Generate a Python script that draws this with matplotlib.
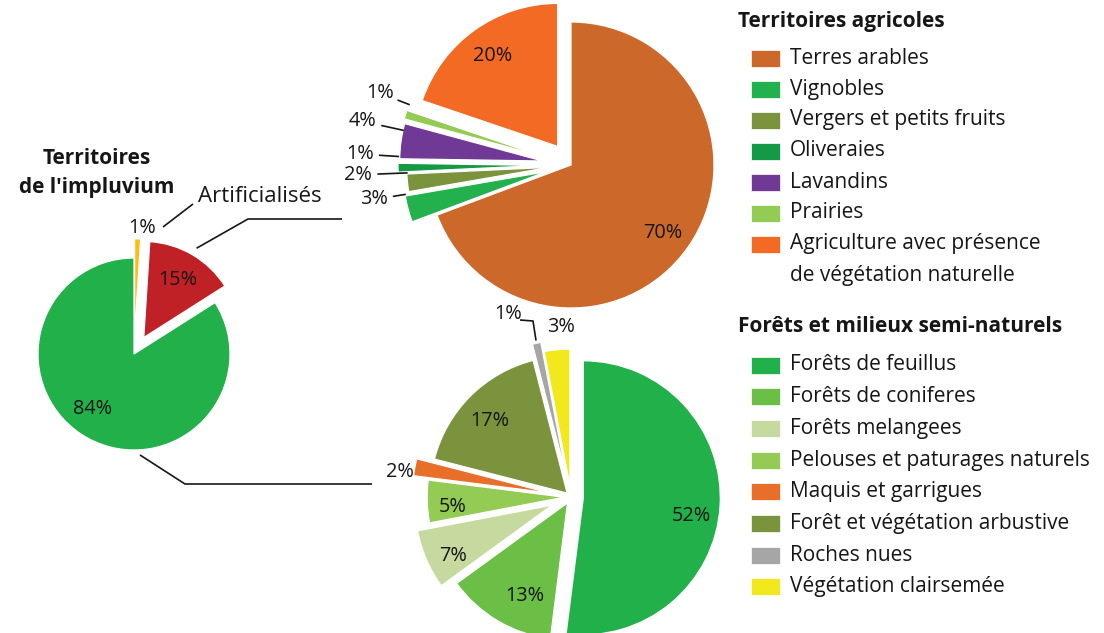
import numpy as np
import matplotlib
matplotlib.use('Agg')
from matplotlib import pyplot as plt
from matplotlib.patches import Rectangle

plt.rcParams['font.family'] = ['Open Sans', 'DejaVu Sans']

# Territoires de l'impluvium
impl_labels = ['Forêts et milieux semi-naturels', 'Territoires agricoles', 'Artificialisés']
impl_values = [84, 15, 1]
impl_colors = ['#22b04b', '#c02126', '#fdbb13']

# Territoires agricoles
agri_labels = ['Terres arables', 'Vignobles', 'Vergers et petits fruits', 'Oliveraies',
               'Lavandins', 'Prairies', 'Agriculture avec présence\nde végétation naturelle']
agri_values = [70, 3, 2, 1, 4, 1, 20]
agri_colors = ['#cc682a', '#22b14c', '#7a933c', '#169944', '#713996', '#93cb54', '#f26a24']

# Forêts et milieux semi-naturels
foret_labels = ['Forêts de feuillus', 'Forêts de coniferes', 'Forêts melangees',
                'Pelouses et paturages naturels', 'Maquis et garrigues',
                'Forêt et végétation arbustive', 'Roches nues', 'Végétation clairsemée']
foret_values = [52, 13, 7, 5, 2, 17, 1, 3]
foret_colors = ['#22b04b', '#6bbe46', '#c6d99f', '#93cb54', '#e86f29', '#7a933c', '#a6a6a6', '#f2e91c']

W, H = 1104, 633
FS = 15      # legend / titles
PFS = 14.3   # percentages
INK = '#161616'

fig = plt.figure(figsize=(W / 100, H / 100), dpi=100)
ax = fig.add_axes([0, 0, 1, 1])


def draw_pie(values, colors, cx, cy, r, explode, counterclock):
    # cx, cy in pixels from the top-left corner
    wedges, _ = ax.pie(values, colors=colors, center=(cx, H - cy), radius=r,
                       explode=[e * r for e in explode], startangle=90,
                       counterclock=counterclock,
                       wedgeprops=dict(edgecolor='white', linewidth=0.9))
    return wedges


def at(w, dist, shift=0.0):
    a = np.deg2rad((w.theta1 + w.theta2) / 2 + shift)
    return w.center[0] + dist * w.r * np.cos(a), w.center[1] + dist * w.r * np.sin(a)


def pct_labels(wedges, values, dists, shifts, leaders=()):
    for i, (w, v) in enumerate(zip(wedges, values)):
        x, y = at(w, dists[i], shifts[i])
        ax.text(x, y, f'{v}%', ha='center', va='center', fontsize=PFS, color=INK)
        if i in leaders:
            x0, y0 = at(w, 1.0, shifts[i])
            x1, y1 = at(w, dists[i] - 0.14, shifts[i])
            ax.plot([x0, x1], [y0, y1], color=INK, lw=1.2)


def poly(pts):
    ax.plot([p[0] for p in pts], [H - p[1] for p in pts], color=INK, lw=1.2,
            solid_capstyle='butt')


# left pie
w_impl = draw_pie(impl_values, impl_colors, 134, 354, 96, [0, 0.2, 0.2], True)
pct_labels(w_impl, impl_values, [0.72, 0.7, 1.12], [-8, 0, -2])

# top pie
w_agri = draw_pie(agri_values, agri_colors, 571, 165, 143,
                  [0, 0.18, 0.15, 0.21, 0.2, 0.21, 0.16], False)
pct_labels(w_agri, agri_values, [0.8, 1.22, 1.34, 1.27, 1.29, 1.22, 0.78],
           [-2, -6, -4, -4.5, -4.4, -4.3, 0], leaders=(1, 2, 3, 4, 5))

# bottom pie
w_foret = draw_pie(foret_values, foret_colors, 571, 497, 137,
                   [0.09, 0.05, 0.15, 0.05, 0.16, 0.04, 0.15, 0.08], False)
pct_labels(w_foret, foret_values, [0.8, 0.75, 0.81, 0.82, 1.1, 0.77, 1.26, 1.16],
           [-6, 6, 3.6, 3, 3, 2, 7, -2])

# leader lines and connectors
poly([(163, 227), (193, 204)])
ax.text(260, H - 196, 'Artificialisés', ha='center', va='center', fontsize=16, color=INK)
rx, ry = at(w_impl[1], 1.08)
poly([(rx, H - ry), (248, 219), (342, 219)])
poly([(140, 455), (185, 484), (372, 484)])
gx, gy = at(w_foret[6], 1.02)
poly([(520, 320), (533, 321), (gx, H - gy)])

ax.text(97, H - 173, "Territoires\nde l'impluvium", ha='center', va='center',
        fontsize=FS, fontweight='bold', linespacing=1.45, color=INK)


def legend_block(title, labels, colors, y_title, y_first, step):
    ax.text(738, H - y_title, title, ha='left', va='center', fontsize=FS,
            fontweight='bold', color=INK)
    y = y_first
    for lab, col in zip(labels, colors):
        ax.add_patch(Rectangle((751, H - y - 8.5), 29, 17, facecolor=col,
                               edgecolor='white', lw=0.5))
        for k, line in enumerate(lab.split('\n')):
            ax.text(790, H - y - k * step, line, ha='left', va='center', fontsize=FS,
                    color=INK)
        y += step * (lab.count('\n') + 1)


legend_block('Territoires agricoles', agri_labels, agri_colors, 22, 58, 31)
legend_block('Forêts et milieux semi-naturels', foret_labels, foret_colors, 327, 365, 31.7)

ax.set_xlim(0, W)
ax.set_ylim(0, H)
ax.set_aspect('auto')
ax.axis('off')

fig.savefig('out.png', dpi=100)
